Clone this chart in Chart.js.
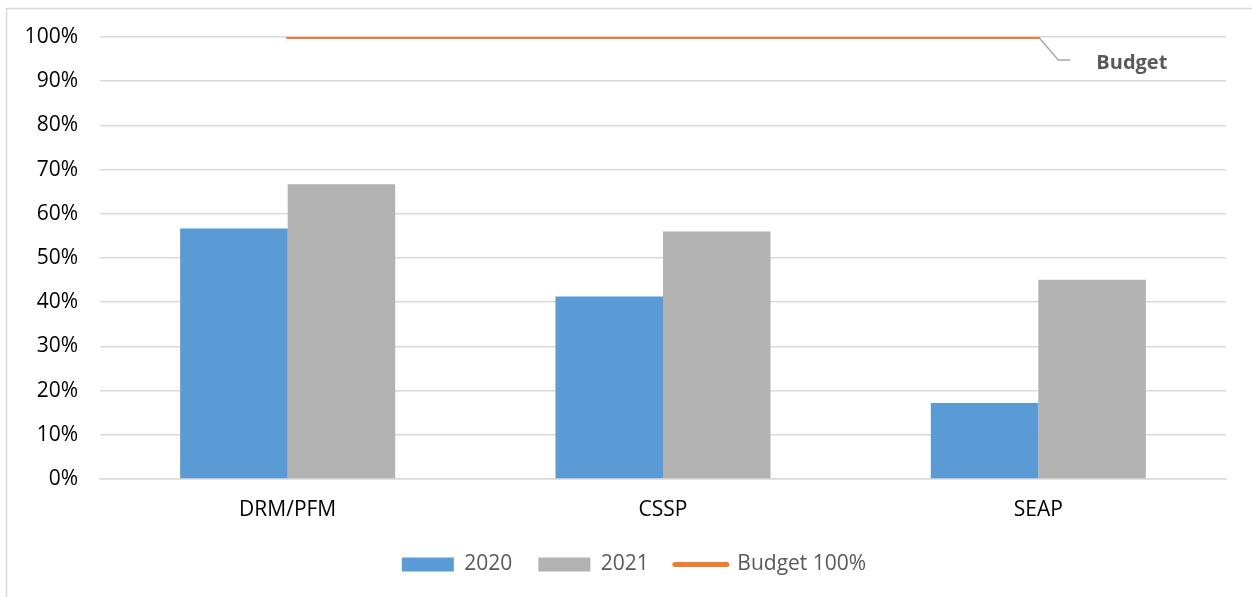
<!DOCTYPE html>
<html>
<head>
<meta charset="utf-8">
<script src="https://cdn.jsdelivr.net/npm/chart.js@4"></script>
<style>
  html, body { margin: 0; padding: 0; background: #fff; }
  #wrap { width: 1252px; height: 597px; position: relative; }
</style>
</head>
<body>
<div id="wrap"><canvas id="budgetChart"></canvas></div>
<script>
const categories = ['DRM/PFM', 'CSSP', 'SEAP'];
const values2020 = [56.7, 41.3, 17.2];
const values2021 = [66.7, 56.0, 45.1];
const budgetLine = [100, 100, 100];
const yTicks = [0, 10, 20, 30, 40, 50, 60, 70, 80, 90, 100];

const FONT = '"Open Sans", sans-serif';

// frame round the whole chart (cut off at right and bottom)
const framePlugin = {
    id: 'frame',
    beforeDraw(chart) {
        const ctx = chart.ctx;
        ctx.save();
        ctx.fillStyle = '#fff';
        ctx.fillRect(0, 0, chart.width, chart.height);
        ctx.strokeStyle = '#d9d9d9';
        ctx.lineWidth = 1.5;
        ctx.strokeRect(6.5, 8.5, 1400, 800);
        ctx.restore();
    }
};

// legend sits a bit right of the plot centre in the original
const legendShift = {
    id: 'legendShift',
    afterLayout(chart) {
        if (chart.legend) {
            chart.legend.left += 21;
            chart.legend.right += 21;
        }
    }
};

// "Budget" callout at the end of the line
const calloutPlugin = {
    id: 'callout',
    afterDatasetsDraw(chart) {
        const meta = chart.getDatasetMeta(2);
        const pt = meta.data[meta.data.length - 1];
        if (!pt) return;
        const ctx = chart.ctx;
        ctx.save();
        ctx.strokeStyle = '#a6a6a6';
        ctx.lineWidth = 1.3;
        ctx.beginPath();
        ctx.moveTo(pt.x + 1, pt.y + 1);
        ctx.lineTo(pt.x + 20, pt.y + 23);
        ctx.lineTo(pt.x + 32, pt.y + 23);
        ctx.stroke();
        ctx.fillStyle = '#595959';
        ctx.font = 'bold 20px ' + FONT;
        ctx.textBaseline = 'middle';
        ctx.fillText('Budget', pt.x + 58, pt.y + 26);
        ctx.restore();
    }
};

const ctx = document.getElementById('budgetChart');

new Chart(ctx, {
    data: {
        labels: categories,
        datasets: [
            {
                type: 'bar',
                label: '2020',
                data: values2020,
                backgroundColor: '#5b9bd5',
                borderWidth: 0,
                categoryPercentage: 0.573,
                barPercentage: 1,
                order: 2
            },
            {
                type: 'bar',
                label: '2021',
                data: values2021,
                backgroundColor: '#b2b2b3',
                borderWidth: 0,
                categoryPercentage: 0.573,
                barPercentage: 1,
                order: 2
            },
            {
                type: 'line',
                label: 'Budget 100%',
                data: budgetLine,
                borderColor: '#ed7d31',
                backgroundColor: '#ed7d31',
                borderWidth: 4,
                borderCapStyle: 'round',
                pointRadius: 0,
                pointHoverRadius: 0,
                order: 1
            }
        ]
    },
    options: {
        responsive: true,
        maintainAspectRatio: false,
        animation: false,
        layout: { padding: { top: 37, right: 26, left: 0, bottom: 12 } },
        plugins: {
            tooltip: { enabled: false },
            legend: {
                position: 'bottom',
                labels: {
                    usePointStyle: true,
                    pointStyleWidth: 52,
                    boxHeight: 14,
                    padding: 26,
                    color: '#595959',
                    font: { family: FONT, size: 21 },
                    generateLabels(chart) {
                        const items = Chart.defaults.plugins.legend.labels.generateLabels(chart);
                        items.sort((a, b) => a.datasetIndex - b.datasetIndex);
                        items.forEach(it => {
                            if (it.datasetIndex < 2) {
                                it.pointStyle = 'rect';
                                it.lineWidth = 0;
                            } else {
                                it.pointStyle = 'line';
                                it.lineWidth = 5;
                                it.lineCap = 'round';
                                it.strokeStyle = '#ed7d31';
                            }
                        });
                        return items;
                    }
                }
            }
        },
        scales: {
            x: {
                grid: { display: false, drawTicks: false },
                border: { display: true, color: '#d9d9d9', width: 1.5 },
                ticks: { color: '#000', padding: 18, font: { family: FONT, size: 21 } },
                afterFit(scale) { scale.height = 49; }
            },
            y: {
                min: 0,
                max: 100,
                afterBuildTicks(scale) { scale.ticks = yTicks.map(v => ({ value: v })); },
                grid: { color: '#d9d9d9', lineWidth: 1.5, drawTicks: false },
                border: { display: false },
                ticks: {
                    color: '#000',
                    padding: 22,
                    font: { family: FONT, size: 21 },
                    callback: v => v + '%'
                },
                afterFit(scale) { scale.width = 100; }
            }
        }
    },
    plugins: [framePlugin, legendShift, calloutPlugin]
});
</script>
</body>
</html>
